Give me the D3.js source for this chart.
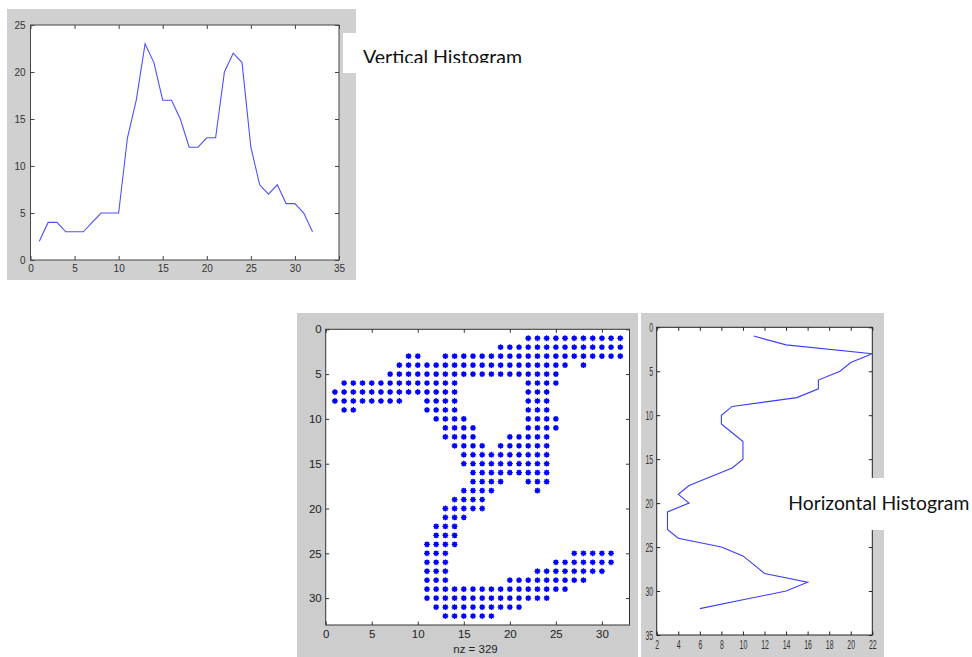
<!DOCTYPE html>
<html>
<head>
<meta charset="utf-8">
<script src="https://cdn.jsdelivr.net/npm/d3@7/dist/d3.min.js"></script>
<style>
  html, body { margin: 0; padding: 0; background: #fff; }
  svg { display: block; }
</style>
</head>
<body>
<script>
// Column positions of the 32x32 binary image
const columns = [1,2,3,4,5,6,7,8,9,10,11,12,13,14,15,16,17,18,19,20,21,22,23,24,25,26,27,28,29,30,31,32];
// Number of set pixels in each column (vertical histogram)
const columnCounts = [2,4,4,3,3,3,4,5,5,5,13,17,23,21,17,17,15,12,12,13,13,20,22,21,12,8,7,8,6,6,5,3];

// Row positions of the image
const rows = [1,2,3,4,5,6,7,8,9,10,11,12,13,14,15,16,17,18,19,20,21,22,23,24,25,26,27,28,29,30,31,32];
// Number of set pixels in each row (horizontal histogram)
const rowCounts = [11,14,22,20,19,17,17,15,9,8,8,9,10,10,10,9,7,5,4,5,3,3,3,4,8,10,11,12,16,14,10,6];

// Set pixels of the image, row by row, as runs of [firstColumn, lastColumn]
const pixelRuns = [
  [1,  [[22,32]]],
  [2,  [[19,32]]],
  [3,  [[9,10],[13,32]]],
  [4,  [[8,26],[28,28]]],
  [5,  [[7,25]]],
  [6,  [[2,14],[22,25]]],
  [7,  [[1,14],[22,24]]],
  [8,  [[1,8],[11,14],[22,24]]],
  [9,  [[2,3],[11,14],[22,24]]],
  [10, [[12,15],[22,25]]],
  [11, [[13,16],[22,25]]],
  [12, [[13,16],[20,24]]],
  [13, [[14,17],[19,24]]],
  [14, [[15,24]]],
  [15, [[15,24]]],
  [16, [[16,24]]],
  [17, [[16,19],[22,24]]],
  [18, [[15,18],[23,23]]],
  [19, [[14,17]]],
  [20, [[13,17]]],
  [21, [[13,15]]],
  [22, [[12,14]]],
  [23, [[12,14]]],
  [24, [[11,14]]],
  [25, [[11,13],[27,31]]],
  [26, [[11,13],[25,31]]],
  [27, [[11,13],[23,30]]],
  [28, [[11,13],[20,28]]],
  [29, [[11,26]]],
  [30, [[11,24]]],
  [31, [[12,21]]],
  [32, [[13,18]]]
];

// Tick labels
const lineXTicks = [0,5,10,15,20,25,30,35];
const lineYTicks = [0,5,10,15,20,25];
const spyTicks = [0,5,10,15,20,25,30];
const profXTicks = [2,4,6,8,10,12,14,16,18,20,22];
const profYTicks = [0,5,10,15,20,25,30,35];

const W = 972, H = 657;
const svg = d3.select("body").append("svg").attr("width", W).attr("height", H)
  .style("font-family", "Arial, 'Liberation Sans', sans-serif");

// MATLAB-style boxed axes: inward ticks on all four sides
function boxAxes(g, x, y, o) {
  const [x0, x1] = x.range();
  const [y0, y1] = [Math.min(...y.range()), Math.max(...y.range())];
  g.append("rect").attr("x", x0).attr("y", y0).attr("width", x1 - x0).attr("height", y1 - y0)
    .attr("fill", "#fff");
  const styleAxis = (sel) => {
    sel.select(".domain").remove();
    sel.selectAll(".tick line").attr("stroke", o.color).attr("stroke-width", 1);
    sel.selectAll(".tick text").attr("fill", o.textColor).style("font-size", o.fontSize + "px");
  };
  const bottom = g.append("g").attr("transform", `translate(0,${y1})`)
    .call(d3.axisBottom(x).tickValues(o.xTicks).tickSizeInner(-o.tick).tickSizeOuter(0).tickPadding(o.xPad))
    .call(styleAxis);
  g.append("g").attr("transform", `translate(0,${y0})`)
    .call(d3.axisTop(x).tickValues(o.xTicks).tickSizeInner(-o.tick).tickSizeOuter(0).tickFormat(""))
    .call(styleAxis);
  const left = g.append("g").attr("transform", `translate(${x0},0)`)
    .call(d3.axisLeft(y).tickValues(o.yTicks).tickSizeInner(-o.tick).tickSizeOuter(0).tickPadding(o.yPad))
    .call(styleAxis);
  g.append("g").attr("transform", `translate(${x1},0)`)
    .call(d3.axisRight(y).tickValues(o.yTicks).tickSizeInner(-o.tick).tickSizeOuter(0).tickFormat(""))
    .call(styleAxis);
  g.append("rect").attr("x", x0).attr("y", y0).attr("width", x1 - x0).attr("height", y1 - y0)
    .attr("fill", "none").attr("stroke", o.color).attr("stroke-width", 1);
  return { bottom, left };
}

// ---- Vertical histogram (column counts) ----
const vPanel = svg.append("g");
vPanel.append("rect").attr("x", 7).attr("y", 9).attr("width", 349).attr("height", 271).attr("fill", "#d0d0d0");
const xV = d3.scaleLinear().domain([0, 35]).range([30.5, 339]);
const yV = d3.scaleLinear().domain([0, 25]).range([260, 25]);
boxAxes(vPanel, xV, yV, { xTicks: lineXTicks, yTicks: lineYTicks, tick: 4, xPad: 5, yPad: 5,
  color: "#444", textColor: "#333", fontSize: 10 });
vPanel.append("path")
  .datum(columns.map((c, i) => [c, columnCounts[i]]))
  .attr("fill", "none").attr("stroke", "#5050ff").attr("stroke-width", 1.1)
  .attr("d", d3.line().x(d => xV(d[0])).y(d => yV(d[1])));

// Caption box beside the vertical histogram
svg.append("rect").attr("x", 343).attr("y", 33).attr("width", 20).attr("height", 40).attr("fill", "#fff");
svg.append("clipPath").attr("id", "capClip")
  .append("rect").attr("x", 340).attr("y", 30).attr("width", 260).attr("height", 33);
svg.append("text").attr("x", 363).attr("y", 64)
  .attr("clip-path", "url(#capClip)")
  .attr("textLength", 159).attr("lengthAdjust", "spacingAndGlyphs")
  .style("font-family", "Lato, 'Open Sans', sans-serif").style("font-size", "18.5px").attr("fill", "#111")
  .text("Vertical Histogram");

// ---- Spy plot of the binary image ----
const spy = svg.append("g");
spy.append("rect").attr("x", 297).attr("y", 313).attr("width", 341).attr("height", 344).attr("fill", "#cdcdcd");
const xSpy = d3.scaleLinear().domain([0, 33]).range([325.7, 629.5]);
const ySpy = d3.scaleLinear().domain([0, 33]).range([329.3, 625]);
boxAxes(spy, xSpy, ySpy, { xTicks: spyTicks, yTicks: spyTicks, tick: 3.5, xPad: 5, yPad: 4,
  color: "#333", textColor: "#222", fontSize: 11.5 });

const pixels = [];
pixelRuns.forEach(([r, runs]) => runs.forEach(([a, b]) => {
  for (let c = a; c <= b; c++) pixels.push([c, r]);
}));
const star = "M-2.9,0H2.9M0,-2.9V2.9M-2.1,-2.1L2.1,2.1M-2.1,2.1L2.1,-2.1";
const marks = spy.append("g").selectAll("g").data(pixels).join("g")
  .attr("transform", d => `translate(${xSpy(d[0])},${ySpy(d[1])})`);
marks.append("circle").attr("r", 2.3).attr("fill", "#0000ff");
marks.append("path").attr("d", star).attr("stroke", "#0000ff").attr("stroke-width", 1.3).attr("fill", "none");

spy.append("text").attr("x", 475.5).attr("y", 653).attr("text-anchor", "middle")
  .style("font-size", "11.5px").attr("fill", "#222")
  .text("nz = " + pixels.length);

// ---- Horizontal histogram (row counts) ----
const hPanel = svg.append("g");
hPanel.append("rect").attr("x", 641).attr("y", 313).attr("width", 243).attr("height", 344).attr("fill", "#cfcfcf");
const xH = d3.scaleLinear().domain([2, 22]).range([656.7, 872.3]);
const yH = d3.scaleLinear().domain([0, 35]).range([327.3, 635]);
const ha = boxAxes(hPanel, xH, yH, { xTicks: profXTicks, yTicks: profYTicks, tick: 3.5, xPad: 5, yPad: 6,
  color: "#222", textColor: "#333", fontSize: 12 });
// condensed tick lettering
ha.bottom.selectAll(".tick text").attr("transform", "scale(0.58,1)");
ha.left.selectAll(".tick text").attr("transform", "scale(0.58,1)").attr("dy", "0.36em");
hPanel.append("path")
  .datum(rows.map((r, i) => [rowCounts[i], r]))
  .attr("fill", "none").attr("stroke", "#3c3cff").attr("stroke-width", 1.1)
  .attr("d", d3.line().x(d => xH(d[0])).y(d => yH(d[1])));

// Caption box beside the horizontal histogram
svg.append("rect").attr("x", 785).attr("y", 478).attr("width", 187).attr("height", 52).attr("fill", "#fff");
svg.append("text").attr("x", 788.3).attr("y", 509.5)
  .attr("textLength", 181).attr("lengthAdjust", "spacingAndGlyphs")
  .style("font-family", "Lato, 'Open Sans', sans-serif").style("font-size", "18.5px").attr("fill", "#111")
  .text("Horizontal Histogram");
</script>
</body>
</html>
